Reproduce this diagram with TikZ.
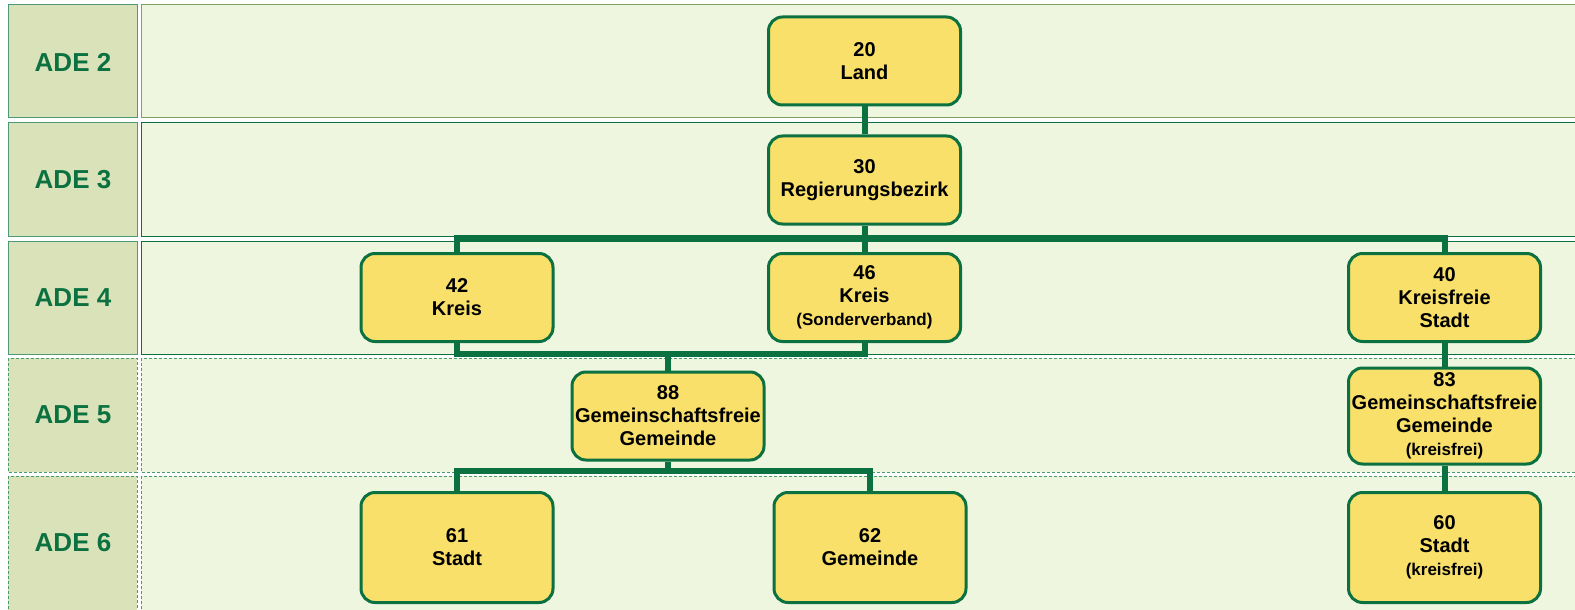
\documentclass[tikz,border=0pt]{standalone}
\usepackage{fontspec}
\setmainfont{Liberation Sans}
\definecolor{adegreen}{HTML}{0B7140}
\definecolor{labelfill}{HTML}{D9E2B8}
\definecolor{cellfill}{HTML}{EEF6DF}
\definecolor{unitfill}{HTML}{F8E06A}
\definecolor{dotgreen}{HTML}{4A9A70}
\definecolor{labelline}{HTML}{4E9A74}
\tikzset{
    unit/.style={draw=adegreen, fill=unitfill, line width=1.5pt, rounded corners=7pt,
        minimum width=96pt, minimum height=44pt, align=center, inner sep=1pt,
        font=\bfseries\fontsize{10}{11.5}\selectfont},
    tall/.style={minimum height=55pt},
    link/.style={draw=adegreen, line width=3pt},
    solidrow/.style={draw=adegreen, line width=0.5pt},
    dotrow/.style={draw=dotgreen, line width=0.5pt, dash pattern=on 1.5pt off 1pt},
    adelabel/.style={text=adegreen, font=\bfseries\fontsize{13}{15}\selectfont}
}
\newcommand{\unitnote}{\fontsize{8.5}{10}\selectfont}
\begin{document}
\begin{tikzpicture}[x=0.5pt, y=-0.5pt]
    \useasboundingbox (0,0) rectangle (1575,610);
        \fill [white] (0,0) rectangle (1575,610);
        % level rows
        \filldraw [solidrow, draw=labelline, fill=labelfill] (8,5) rectangle (137,118);
        \filldraw [solidrow, draw=adegreen!50!olive!70, fill=cellfill] (141,5) rectangle (1585,118);
        \filldraw [solidrow, draw=labelline, fill=labelfill] (8,123) rectangle (137,236);
        \filldraw [solidrow, fill=cellfill] (141,123) rectangle (1585,236);
        \filldraw [solidrow, draw=labelline, fill=labelfill] (8,241) rectangle (137,354);
        \filldraw [solidrow, fill=cellfill] (141,241) rectangle (1585,354);
        \filldraw [dotrow, fill=labelfill] (8,358) rectangle (137,472);
        \filldraw [dotrow, fill=cellfill] (141,358) rectangle (1585,472);
        \filldraw [dotrow, fill=labelfill] (8,476) rectangle (137,620);
        \filldraw [dotrow, fill=cellfill] (141,476) rectangle (1585,620);
        \node [adelabel] (ade2) at (73,62) {ADE 2};
        \node [adelabel] (ade3) at (73,180) {ADE 3};
        \node [adelabel] (ade4) at (73,298) {ADE 4};
        \node [adelabel] (ade5) at (73,415) {ADE 5};
        \node [adelabel] (ade6) at (73,543) {ADE 6};
        % units
        \node [unit] (land) at (864.5,61) {20\\Land};
        \node [unit] (bezirk) at (864.5,180) {30\\Regierungsbezirk};
        \node [unit] (kreis42) at (457,297.5) {42\\Kreis};
        \node [unit] (kreis46) at (864.5,297.5) {46\\Kreis\\{\unitnote(Sonderverband)}};
        \node [unit] (kfstadt40) at (1444.5,297.5) {40\\Kreisfreie\\Stadt};
        \node [unit] (gfg88) at (668,416) {88\\Gemeinschaftsfreie\\Gemeinde};
        \node [unit, minimum height=48pt] (gfg83) at (1444.5,416) {83\\Gemeinschaftsfreie\\Gemeinde\\{\unitnote(kreisfrei)}};
        \node [unit, tall] (stadt61) at (457,547.5) {61\\Stadt};
        \node [unit, tall] (gem62) at (870,547.5) {62\\Gemeinde};
        \node [unit, tall] (stadt60) at (1444.5,547.5) {60\\Stadt\\{\unitnote(kreisfrei)}};
        \coordinate (bar3) at (0,238);
        \coordinate (bar4) at (0,354);
        \coordinate (bar5) at (0,471);
        % links
        \draw [link] (land.south) -- (bezirk.north);
        \draw [link] (bezirk.south) -- (kreis46.north);
        \draw [link] (kreis42.north) |- (bar3 -| kfstadt40) -- (kfstadt40.north);
        \draw [link] (kreis42.south) |- (bar4 -| kreis46) -- (kreis46.south);
        \draw [link] (gfg88.north) -- (gfg88.north |- bar4);
        \draw [link] (stadt61.north) |- (bar5 -| gem62) -- (gem62.north);
        \draw [link] (gfg88.south) -- (gfg88.south |- bar5);
        \draw [link] (kfstadt40.south) -- (gfg83.north);
        \draw [link] (gfg83.south) -- (stadt60.north);
    \end{tikzpicture}
\end{document}
